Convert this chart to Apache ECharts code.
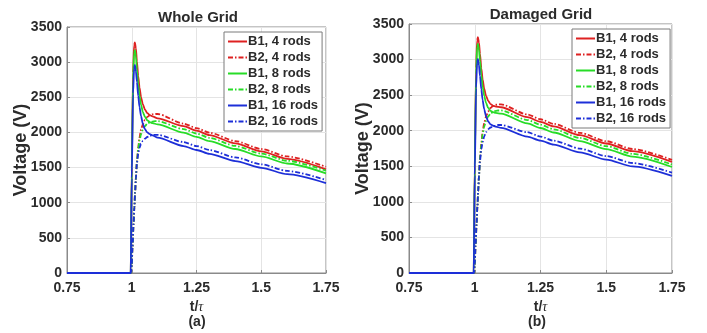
<!DOCTYPE html>
<html>
<head>
<meta charset="utf-8">
<script src="https://cdn.jsdelivr.net/npm/echarts@6/dist/echarts.min.js"></script>
<style>
  html, body { margin: 0; padding: 0; background: #fff; }
  #chart { width: 707px; height: 333px; }
</style>
</head>
<body>
<div id="chart"></div>
<script>
// time samples (t / tau) for the B1 and B2 curves
const tB1 = [0.75, 0.996, 1.0, 1.005, 1.009, 1.012, 1.016, 1.02, 1.025, 1.03, 1.036, 1.043, 1.051, 1.06, 1.07, 1.08, 1.1, 1.2, 1.25, 1.3, 1.4, 1.5, 1.6, 1.75];
const tB2 = [0.75, 0.997, 1.0, 1.003, 1.007, 1.01, 1.013, 1.016, 1.02, 1.025, 1.03, 1.036, 1.043, 1.051, 1.06, 1.07, 1.08, 1.09, 1.1, 1.2, 1.25, 1.3, 1.4, 1.5, 1.6, 1.75];

// (a) whole grid
const wholeB1r4 = [0, 0, 1500, 2850, 3240, 3280, 3200, 3010, 2800, 2640, 2500, 2400, 2325, 2275, 2245, 2228, 2200, 2090, 2025, 1962, 1843, 1730, 1624, 1475];
const wholeB2r4 = [0, 0, 120, 380, 700, 930, 1150, 1360, 1590, 1790, 1930, 2040, 2120, 2180, 2220, 2245, 2258, 2263, 2262, 2126, 2061, 1997, 1877, 1764, 1658, 1510];
const wholeB1r8 = [0, 0, 1450, 2750, 3130, 3170, 3080, 2900, 2680, 2520, 2390, 2290, 2220, 2172, 2146, 2132, 2115, 1998, 1937, 1877, 1764, 1658, 1558, 1418];
const wholeB2r8 = [0, 0, 120, 380, 700, 930, 1150, 1360, 1585, 1770, 1885, 1975, 2040, 2090, 2125, 2145, 2155, 2160, 2160, 2048, 1985, 1923, 1808, 1699, 1597, 1455];
const wholeB1r16 = [0, 0, 1350, 2550, 2910, 2960, 2870, 2720, 2520, 2360, 2230, 2120, 2045, 2000, 1975, 1958, 1925, 1806, 1750, 1695, 1593, 1497, 1406, 1278];
const wholeB2r16 = [0, 0, 120, 380, 700, 930, 1150, 1350, 1560, 1700, 1780, 1840, 1880, 1910, 1935, 1952, 1962, 1966, 1965, 1863, 1806, 1750, 1645, 1546, 1453, 1323];

// (b) damaged grid
const dmgB1r4 = [0, 0, 1520, 2880, 3270, 3315, 3240, 3080, 2880, 2720, 2590, 2490, 2420, 2375, 2350, 2340, 2330, 2190, 2125, 2060, 1937, 1820, 1712, 1560];
const dmgB2r4 = [0, 0, 120, 380, 700, 930, 1150, 1360, 1620, 1820, 1990, 2110, 2200, 2270, 2320, 2350, 2365, 2371, 2370, 2229, 2161, 2096, 1971, 1853, 1743, 1590];
const dmgB1r8 = [0, 0, 1480, 2790, 3180, 3220, 3140, 2980, 2780, 2620, 2490, 2390, 2320, 2280, 2260, 2250, 2240, 2103, 2038, 1975, 1855, 1742, 1636, 1490];
const dmgB2r8 = [0, 0, 120, 380, 700, 930, 1150, 1360, 1610, 1800, 1950, 2060, 2140, 2200, 2240, 2265, 2278, 2284, 2285, 2150, 2085, 2020, 1898, 1783, 1675, 1525];
const dmgB1r16 = [0, 0, 1380, 2600, 2960, 3010, 2920, 2770, 2580, 2430, 2300, 2200, 2130, 2090, 2070, 2057, 2040, 1918, 1860, 1804, 1696, 1594, 1498, 1365];
const dmgB2r16 = [0, 0, 120, 380, 700, 930, 1150, 1360, 1580, 1740, 1840, 1920, 1980, 2020, 2045, 2062, 2074, 2080, 2080, 1979, 1918, 1860, 1749, 1644, 1546, 1410];

const names = ["B1, 4 rods", "B2, 4 rods", "B1, 8 rods", "B2, 8 rods", "B1, 16 rods", "B2, 16 rods"];
const xTicks = [0.75, 1, 1.25, 1.5, 1.75];
const yTicks = [0, 500, 1000, 1500, 2000, 2500, 3000, 3500];

const RED = "#de2121";
const GREEN = "#27dc27";
const BLUE = "#1d2fd8";
const FONT = "Liberation Sans, Arial, sans-serif";
const TXT = "#2b2b2b";
const DASHDOT = [5, 2, 1.5, 2];

function zip(ts, vs) {
  return ts.map((t, i) => [t, vs[i]]);
}

function line(name, ts, vs, color, dashed, idx) {
  return {
    name: name,
    type: "line",
    xAxisIndex: idx,
    yAxisIndex: idx,
    data: zip(ts, vs),
    symbol: "none",
    smooth: 0.25,
    smoothMonotone: "x",
    animation: false,
    lineStyle: { color: color, width: 1.8, type: dashed ? DASHDOT : "solid" },
    itemStyle: { color: color }
  };
}

function xAxis(idx) {
  return {
    type: "value",
    gridIndex: idx,
    min: xTicks[0],
    max: xTicks[xTicks.length - 1],
    interval: 0.25,
    name: "{b|t/}{tau|τ}",
    nameLocation: "middle",
    nameGap: 16,
    nameTextStyle: {
      rich: {
        b: { fontFamily: FONT, fontWeight: "bold", fontSize: 14, color: TXT },
        tau: { fontFamily: "Liberation Serif, serif", fontStyle: "italic", fontSize: 14, color: TXT }
      }
    },
    axisLine: { show: true, onZero: false, lineStyle: { color: "#8a8a8a", width: 1 } },
    axisTick: { show: true, inside: true, length: 3, lineStyle: { color: "#8a8a8a" } },
    axisLabel: { margin: 8, fontFamily: FONT, fontWeight: "bold", fontSize: 14, color: TXT },
    splitLine: { show: true, lineStyle: { color: "#e4e4e4", width: 1 } }
  };
}

function yAxis(idx, gap) {
  return {
    type: "value",
    gridIndex: idx,
    min: yTicks[0],
    max: yTicks[yTicks.length - 1],
    interval: 500,
    name: "Voltage (V)",
    nameLocation: "middle",
    nameGap: gap,
    nameMoveOverlap: false,
    nameRotate: 90,
    nameTextStyle: { fontFamily: FONT, fontWeight: "bold", fontSize: 18, color: TXT },
    axisLine: { show: true, lineStyle: { color: "#8a8a8a", width: 1 } },
    axisTick: { show: true, inside: true, length: 3, lineStyle: { color: "#8a8a8a" } },
    axisLabel: {
      margin: 5, fontFamily: FONT, fontWeight: "bold", fontSize: 14, color: TXT,
      formatter: (v) => String(v)
    },
    splitLine: { show: true, lineStyle: { color: "#e4e4e4", width: 1 } }
  };
}

function legend(left, top) {
  return {
    orient: "vertical",
    left: left,
    top: top,
    data: names,
    itemWidth: 19,
    itemHeight: 12,
    itemGap: 3,
    padding: [3, 4, 3, 3],
    backgroundColor: "#fff",
    borderColor: "#7a7a7a",
    borderWidth: 1,
    borderRadius: 0,
    selectedMode: false,
    itemStyle: { opacity: 0 },
    textStyle: { fontFamily: FONT, fontWeight: "bold", fontSize: 13, color: TXT, padding: [0, 0, 0, -4] }
  };
}

const chart = echarts.init(document.getElementById("chart"), null, { renderer: "canvas" });

const colors = [RED, RED, GREEN, GREEN, BLUE, BLUE];
const whole = [wholeB1r4, wholeB2r4, wholeB1r8, wholeB2r8, wholeB1r16, wholeB2r16];
const damaged = [dmgB1r4, dmgB2r4, dmgB1r8, dmgB2r8, dmgB1r16, dmgB2r16];

const series = [];
whole.forEach((vs, i) => {
  const b2 = i % 2 === 1;
  series.push(line(names[i], b2 ? tB2 : tB1, vs, colors[i], b2, 0));
});
damaged.forEach((vs, i) => {
  const b2 = i % 2 === 1;
  series.push(line(names[i], b2 ? tB2 : tB1, vs, colors[i], b2, 1));
});

chart.setOption({
  backgroundColor: "#fff",
  animation: false,
  title: [
    { text: "Whole Grid", left: 193, top: 5, textAlign: "center",
      textStyle: { fontFamily: FONT, fontWeight: "bold", fontSize: 15, color: TXT } },
    { text: "Damaged Grid", left: 536, top: 2, textAlign: "center",
      textStyle: { fontFamily: FONT, fontWeight: "bold", fontSize: 15, color: TXT } },
    { text: "(a)", left: 192, top: 310, textAlign: "center",
      textStyle: { fontFamily: FONT, fontWeight: "bold", fontSize: 14, color: TXT } },
    { text: "(b)", left: 532, top: 310, textAlign: "center",
      textStyle: { fontFamily: FONT, fontWeight: "bold", fontSize: 14, color: TXT } }
  ],
  grid: [
    { left: 67, right: 381, top: 27, bottom: 60, show: true, borderColor: "#8a8a8a", borderWidth: 1, backgroundColor: "transparent" },
    { left: 409, right: 35, top: 24, bottom: 60, show: true, borderColor: "#8a8a8a", borderWidth: 1, backgroundColor: "transparent" }
  ],
  legend: [legend(224, 32), legend(572, 29)],
  xAxis: [xAxis(0), xAxis(1)],
  yAxis: [yAxis(0, 37), yAxis(1, 37)],
  series: series
});
</script>
</body>
</html>
